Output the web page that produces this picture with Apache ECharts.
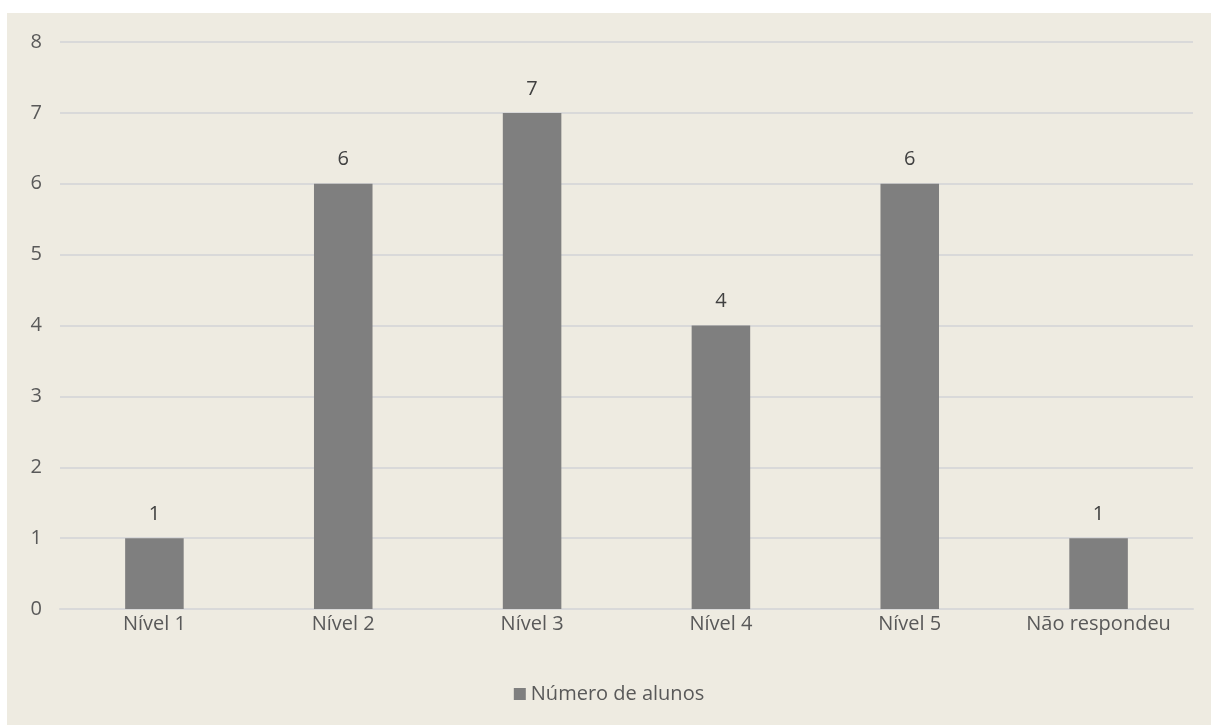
<!DOCTYPE html>
<html>
<head>
<meta charset="utf-8">
<script src="https://cdn.jsdelivr.net/npm/echarts@6/dist/echarts.min.js"></script>
<style>
  html, body { margin: 0; padding: 0; background: #fff; }
  #chart { position: absolute; left: 7px; top: 13px; width: 1204px; height: 712px; background: #EEEBE1; }
</style>
</head>
<body>
<div id="chart"></div>
<script>
const categories = ['Nível 1', 'Nível 2', 'Nível 3', 'Nível 4', 'Nível 5', 'Não respondeu']
const alunos = [1, 6, 7, 4, 6, 1]
const seriesName = 'Número de alunos'

const textColor = '#595959'
const fontFamily = '"Open Sans", "Liberation Sans", sans-serif'
const fontSize = 20

const myChart = echarts.init(document.getElementById('chart'))
const option = {
    backgroundColor: '#EEEBE1',
    textStyle: { fontFamily: fontFamily },
    grid: { left: 53, right: 18, top: 29, bottom: 116 },
    legend: {
        bottom: 16,
        left: 'center',
        icon: 'rect',
        itemWidth: 12,
        itemHeight: 12,
        itemGap: 4,
        textStyle: { color: textColor, fontSize: fontSize, fontFamily: fontFamily },
        data: [seriesName]
    },
    xAxis: {
        type: 'category',
        data: categories,
        axisLine: { lineStyle: { color: '#D9D9D9', width: 2 } },
        axisTick: { show: false },
        axisLabel: { color: textColor, fontSize: fontSize, margin: 5, fontFamily: fontFamily }
    },
    yAxis: {
        type: 'value',
        min: 0,
        max: 8,
        interval: 1,
        axisLine: { show: false },
        axisTick: { show: false },
        axisLabel: { color: textColor, fontSize: fontSize, margin: 18, fontFamily: fontFamily },
        splitLine: { lineStyle: { color: '#D9D9D9', width: 2 } }
    },
    series: [
        {
            name: seriesName,
            type: 'bar',
            data: alunos,
            barWidth: '31%',
            itemStyle: { color: '#7F7F7F' },
            label: {
                show: true,
                position: 'top',
                distance: 14,
                color: '#404040',
                fontSize: fontSize,
                fontFamily: fontFamily
            }
        }
    ]
}
myChart.setOption(option)
</script>
</body>
</html>
